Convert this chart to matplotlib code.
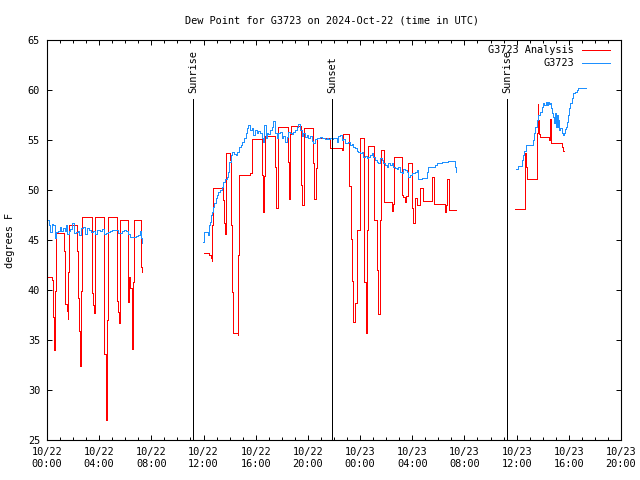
import numpy as np
import pandas as pd
import matplotlib
matplotlib.use("Agg")
import matplotlib.pyplot as plt
import matplotlib.dates as mdates

# hours since 2024-10-22 00:00 UTC, values in degrees F
red_t1 = [0.00, 0.36, 0.46, 0.54, 0.62, 0.67, 1.30, 1.38, 1.52, 1.60, 1.64, 1.71,
          2.27, 2.38, 2.45, 2.52, 2.60, 2.68, 3.42, 3.48, 3.53, 3.60, 3.66, 4.40,
          4.50, 4.62, 4.70, 5.34, 5.46, 5.55, 5.62, 6.24, 6.30, 6.40, 6.50, 6.55,
          6.60, 6.68, 7.18, 7.25, 7.31]
red_v1 = [41.3, 41.0, 37.3, 34.0, 39.9, 45.7, 43.9, 38.6, 37.9, 37.1, 41.8, 46.5,
          43.9, 39.2, 35.9, 32.4, 39.9, 47.3, 43.6, 39.7, 38.5, 37.7, 47.3, 33.6,
          27.0, 37.0, 47.3, 38.9, 37.8, 36.7, 47.0, 38.8, 41.3, 40.2, 37.5, 34.1,
          40.8, 47.0, 42.3, 41.8, 41.8]

red_t2 = [12.00, 12.45, 12.55, 12.62, 12.68, 12.74, 13.52, 13.60, 13.66, 13.71, 13.76,
          14.03, 14.12, 14.21, 14.28, 14.62, 14.67, 14.74, 15.56, 15.68, 15.74, 16.51,
          16.57, 16.65, 16.71, 17.48, 17.55, 17.68, 17.73, 18.50, 18.57, 18.66, 18.74,
          19.46, 19.55, 19.70, 20.41, 20.49, 20.61, 20.69, 21.70, 22.59, 22.67, 23.18,
          23.28, 23.41, 23.48, 23.63, 23.74, 23.79, 23.99, 24.32, 24.45, 24.53, 24.62,
          25.07, 25.32, 25.40, 25.53, 25.60, 25.86, 26.42, 26.50, 26.60, 27.19, 27.32,
          27.44, 27.52, 27.67, 28.00, 28.08, 28.18, 28.35, 28.62, 28.85, 29.49, 29.69,
          30.51, 30.55, 30.64, 30.84, 31.35]
red_v2 = [43.7, 43.5, 43.2, 42.9, 46.5, 50.2, 49.0, 46.7, 45.6, 49.6, 53.7,
          53.0, 46.5, 39.8, 35.7, 35.5, 43.5, 51.5, 51.7, 53.4, 55.1, 51.5,
          47.8, 51.4, 55.4, 52.3, 48.2, 55.2, 56.3, 52.8, 49.1, 55.6, 56.4,
          50.5, 48.5, 56.2, 52.7, 49.1, 52.2, 55.2, 54.2, 54.0, 55.6, 50.4,
          45.1, 40.9, 36.8, 38.7, 42.3, 46.0, 55.2, 40.8, 35.7, 46.0, 54.4,
          47.0, 42.0, 37.6, 47.0, 54.0, 48.8, 47.9, 48.6, 53.3, 49.5, 49.3,
          48.8, 49.4, 52.7, 48.2, 46.7, 49.2, 48.5, 50.2, 48.9, 51.3, 48.6,
          47.8, 48.5, 51.1, 48.0, 48.0]

red_t3 = [35.88, 36.64, 36.75, 36.82, 37.58, 37.64, 37.67, 37.70, 37.78, 38.48,
          38.56, 38.62, 39.50, 39.58, 39.65]
red_v3 = [48.1, 53.7, 52.3, 51.1, 55.7, 58.6, 57.0, 55.6, 55.3, 55.0,
          57.1, 54.7, 54.3, 53.9, 53.9]

blue_t1 = [0.00, 0.12, 0.20, 0.35, 0.50, 0.60, 0.70, 0.85, 1.00, 1.10, 1.20, 1.35,
           1.45, 1.55, 1.65, 1.80, 1.95, 2.05, 2.20, 2.35, 2.45, 2.60, 2.75, 2.90,
           3.05, 3.20, 3.35, 3.50, 3.65, 3.80, 3.95, 4.10, 4.25, 4.40, 4.55, 4.70,
           4.85, 5.00, 5.15, 5.30, 5.45, 5.60, 5.75, 5.90, 6.05, 6.20, 6.35, 6.50,
           6.65, 6.80, 6.95, 7.10, 7.22, 7.28]
blue_v1 = [47.0, 46.5, 45.8, 46.6, 46.5, 45.2, 45.8, 45.9, 46.3, 45.9, 46.2, 45.9,
           46.5, 45.6, 45.9, 46.1, 46.7, 45.7, 45.8, 45.9, 45.5, 46.2, 46.3, 45.6,
           46.2, 46.0, 45.8, 45.9, 45.6, 46.0, 46.0, 45.9, 46.1, 45.6, 45.7, 45.8,
           45.9, 46.0, 46.0, 46.0, 45.7, 45.7, 45.9, 46.0, 45.9, 45.6, 45.3, 45.3,
           45.3, 45.4, 45.5, 45.9, 45.2, 44.7]

blue_t2 = [11.98, 12.06, 12.24, 12.32, 12.42, 12.50, 12.57, 12.67, 12.75, 12.83, 12.93,
           13.01, 13.13, 13.26, 13.39, 13.52, 13.64, 13.77, 13.90, 13.98, 14.08, 14.21,
           14.33, 14.46, 14.59, 14.72, 14.84, 14.97, 15.10, 15.23, 15.31, 15.43, 15.56,
           15.69, 15.82, 15.94, 16.07, 16.20, 16.33, 16.46, 16.58, 16.66, 16.77, 16.84,
           16.97, 17.10, 17.22, 17.35, 17.48, 17.61, 17.73, 17.86, 17.99, 18.12, 18.25,
           18.37, 18.50, 18.63, 18.76, 18.88, 19.01, 19.14, 19.27, 19.39, 19.52, 19.65,
           19.78, 19.90, 20.03, 20.16, 20.29, 20.42, 20.54, 20.67, 20.80, 20.93, 21.06,
           21.18, 21.31, 21.44, 21.57, 21.69, 21.82, 21.95, 22.20, 22.33, 22.46, 22.59,
           22.72, 22.84, 22.97, 23.10, 23.23, 23.36, 23.48, 23.61, 23.74, 23.87, 23.99,
           24.12, 24.25, 24.38, 24.50, 24.63, 24.76, 24.89, 25.02, 25.14, 25.27, 25.40,
           25.53, 25.66, 25.78, 25.91, 26.04, 26.17, 26.29, 26.42, 26.55, 26.68, 26.80,
           26.93, 27.06, 27.19, 27.32, 27.44, 27.57, 27.70, 27.83, 27.95, 28.08, 28.21,
           28.34, 28.47, 28.59, 28.72, 28.85, 28.98, 29.10, 29.18, 29.62, 29.75, 29.87,
           30.13, 30.26, 30.64, 30.77, 31.20, 31.28, 31.33]
blue_v2 = [44.8, 45.8, 45.8, 45.5, 46.5, 46.8, 47.5, 47.8, 48.3, 48.7, 49.2,
           49.5, 49.8, 50.0, 50.3, 50.8, 51.1, 51.3, 51.8, 52.8, 53.5, 53.8,
           53.6, 53.5, 53.8, 54.3, 54.5, 54.8, 55.2, 55.7, 56.2, 56.5, 56.0,
           56.2, 55.5, 56.0, 55.7, 55.9, 55.7, 55.2, 54.8, 56.5, 55.2, 55.7,
           55.6, 56.0, 56.3, 56.9, 55.7, 55.2, 55.7, 55.8, 55.2, 55.4, 54.8,
           55.3, 55.8, 55.7, 55.6, 55.8, 56.0, 56.3, 56.6, 56.0, 55.4, 55.7,
           55.3, 55.5, 55.2, 55.4, 54.9, 54.7, 55.1, 55.2, 55.2, 55.3, 55.2,
           55.2, 55.1, 55.2, 55.1, 55.2, 55.1, 55.2, 54.8, 55.4, 55.5, 55.0,
           55.1, 54.7, 54.7, 54.8, 54.5, 54.6, 54.3, 54.2, 53.9, 53.8, 53.7,
           53.8, 53.3, 53.4, 53.2, 53.3, 53.5, 53.7, 53.3, 53.0, 52.8, 52.7,
           53.2, 53.0, 52.7, 52.5, 52.3, 52.7, 52.5, 52.7, 52.3, 52.2, 52.1,
           52.3, 51.8, 51.7, 52.1, 52.0, 51.8, 51.3, 51.5, 51.7, 51.7, 51.8,
           52.0, 51.1, 51.1, 51.2, 51.2, 51.2, 51.8, 52.3, 52.3, 52.5, 52.7,
           52.7, 52.8, 52.8, 52.9, 52.9, 52.3, 51.8]

blue_t3 = [35.93, 36.08, 36.44, 36.51, 36.59, 36.69, 37.23, 37.31, 37.41, 37.54, 37.67,
           37.79, 37.92, 38.05, 38.12, 38.23, 38.30, 38.38, 38.48, 38.56, 38.63, 38.74,
           38.81, 38.89, 38.94, 38.99, 39.07, 39.15, 39.20, 39.27, 39.35, 39.45, 39.53,
           39.61, 39.71, 39.78, 39.86, 39.97, 40.05, 40.12, 40.22, 40.35, 40.48, 40.60,
           40.73, 41.32]
blue_v3 = [52.1, 52.4, 53.0, 53.5, 53.9, 54.5, 55.0, 55.7, 56.3, 57.0, 57.5,
           57.8, 58.3, 58.7, 58.5, 58.8, 58.5, 58.8, 58.6, 58.7, 58.2, 57.7,
           57.3, 56.7, 57.7, 56.3, 57.5, 56.3, 57.0, 56.0, 56.2, 55.7, 55.5,
           55.7, 56.1, 56.3, 56.8, 57.5, 58.2, 58.7, 59.2, 59.7, 59.8, 60.0,
           60.2, 60.2]

event_names = ["Sunrise", "Sunset", "Sunrise"]
event_hours = [11.19, 21.87, 35.28]

series_names = ["G3723 Analysis", "G3723"]
colors = ["#ff0000", "#1e90ff"]

start = pd.Timestamp("2024-10-22 00:00")


def to_time(hours):
    return start + pd.to_timedelta(np.array(hours), unit="h")


plt.rcParams["font.family"] = "DejaVu Sans Mono"
plt.rcParams["font.size"] = 7.4
plt.rcParams["lines.antialiased"] = False

LW = 0.6

fig = plt.figure(figsize=(6.4, 4.8), dpi=100)
ax = fig.add_axes([0.0734, 0.0833, 0.8969, 0.8333])

for t, v in [(red_t1, red_v1), (red_t2, red_v2), (red_t3, red_v3)]:
    ax.plot(to_time(t), v, drawstyle="steps-post", color=colors[0], lw=LW)
for t, v in [(blue_t1, blue_v1), (blue_t2, blue_v2), (blue_t3, blue_v3)]:
    ax.plot(to_time(t), v, drawstyle="steps-post", color=colors[1], lw=LW)

for name, h in zip(event_names, event_hours):
    et = to_time([h])[0]
    ax.vlines(et, 25, 59.1, color="black", lw=LW, antialiased=False)
    ax.text(et, 59.7, name, rotation=90, ha="center", va="bottom")

ax.set_xlim(start, start + pd.Timedelta(hours=44))
ax.set_ylim(25, 65)
ax.set_yticks(range(25, 66, 5))
ax.xaxis.set_major_locator(mdates.HourLocator(byhour=range(0, 24, 4)))
ax.xaxis.set_minor_locator(mdates.HourLocator())
ax.xaxis.set_major_formatter(mdates.DateFormatter("%m/%d\n%H:%M"))
ax.tick_params(which="both", direction="in", top=True, right=True, width=0.7)
ax.tick_params(which="major", length=3.5, pad=5)
ax.tick_params(which="minor", length=2.0)
for s in ax.spines.values():
    s.set_linewidth(0.8)

# legend drawn by hand: right-aligned labels with line samples
for i, (name, c) in enumerate(zip(series_names, colors)):
    y = 0.975 - i * 0.0325
    ax.text(0.918, y, name, ha="right", va="center", transform=ax.transAxes)
    ax.plot([0.932, 0.981], [y, y], color=c, lw=LW, transform=ax.transAxes)

fig.text(0.5195, 0.958, "Dew Point for G3723 on 2024-Oct-22 (time in UTC)",
         ha="center", va="center")
fig.text(0.016, 0.5, "degrees F", rotation=90, ha="center", va="center")

fig.savefig("out.png", dpi=100)
